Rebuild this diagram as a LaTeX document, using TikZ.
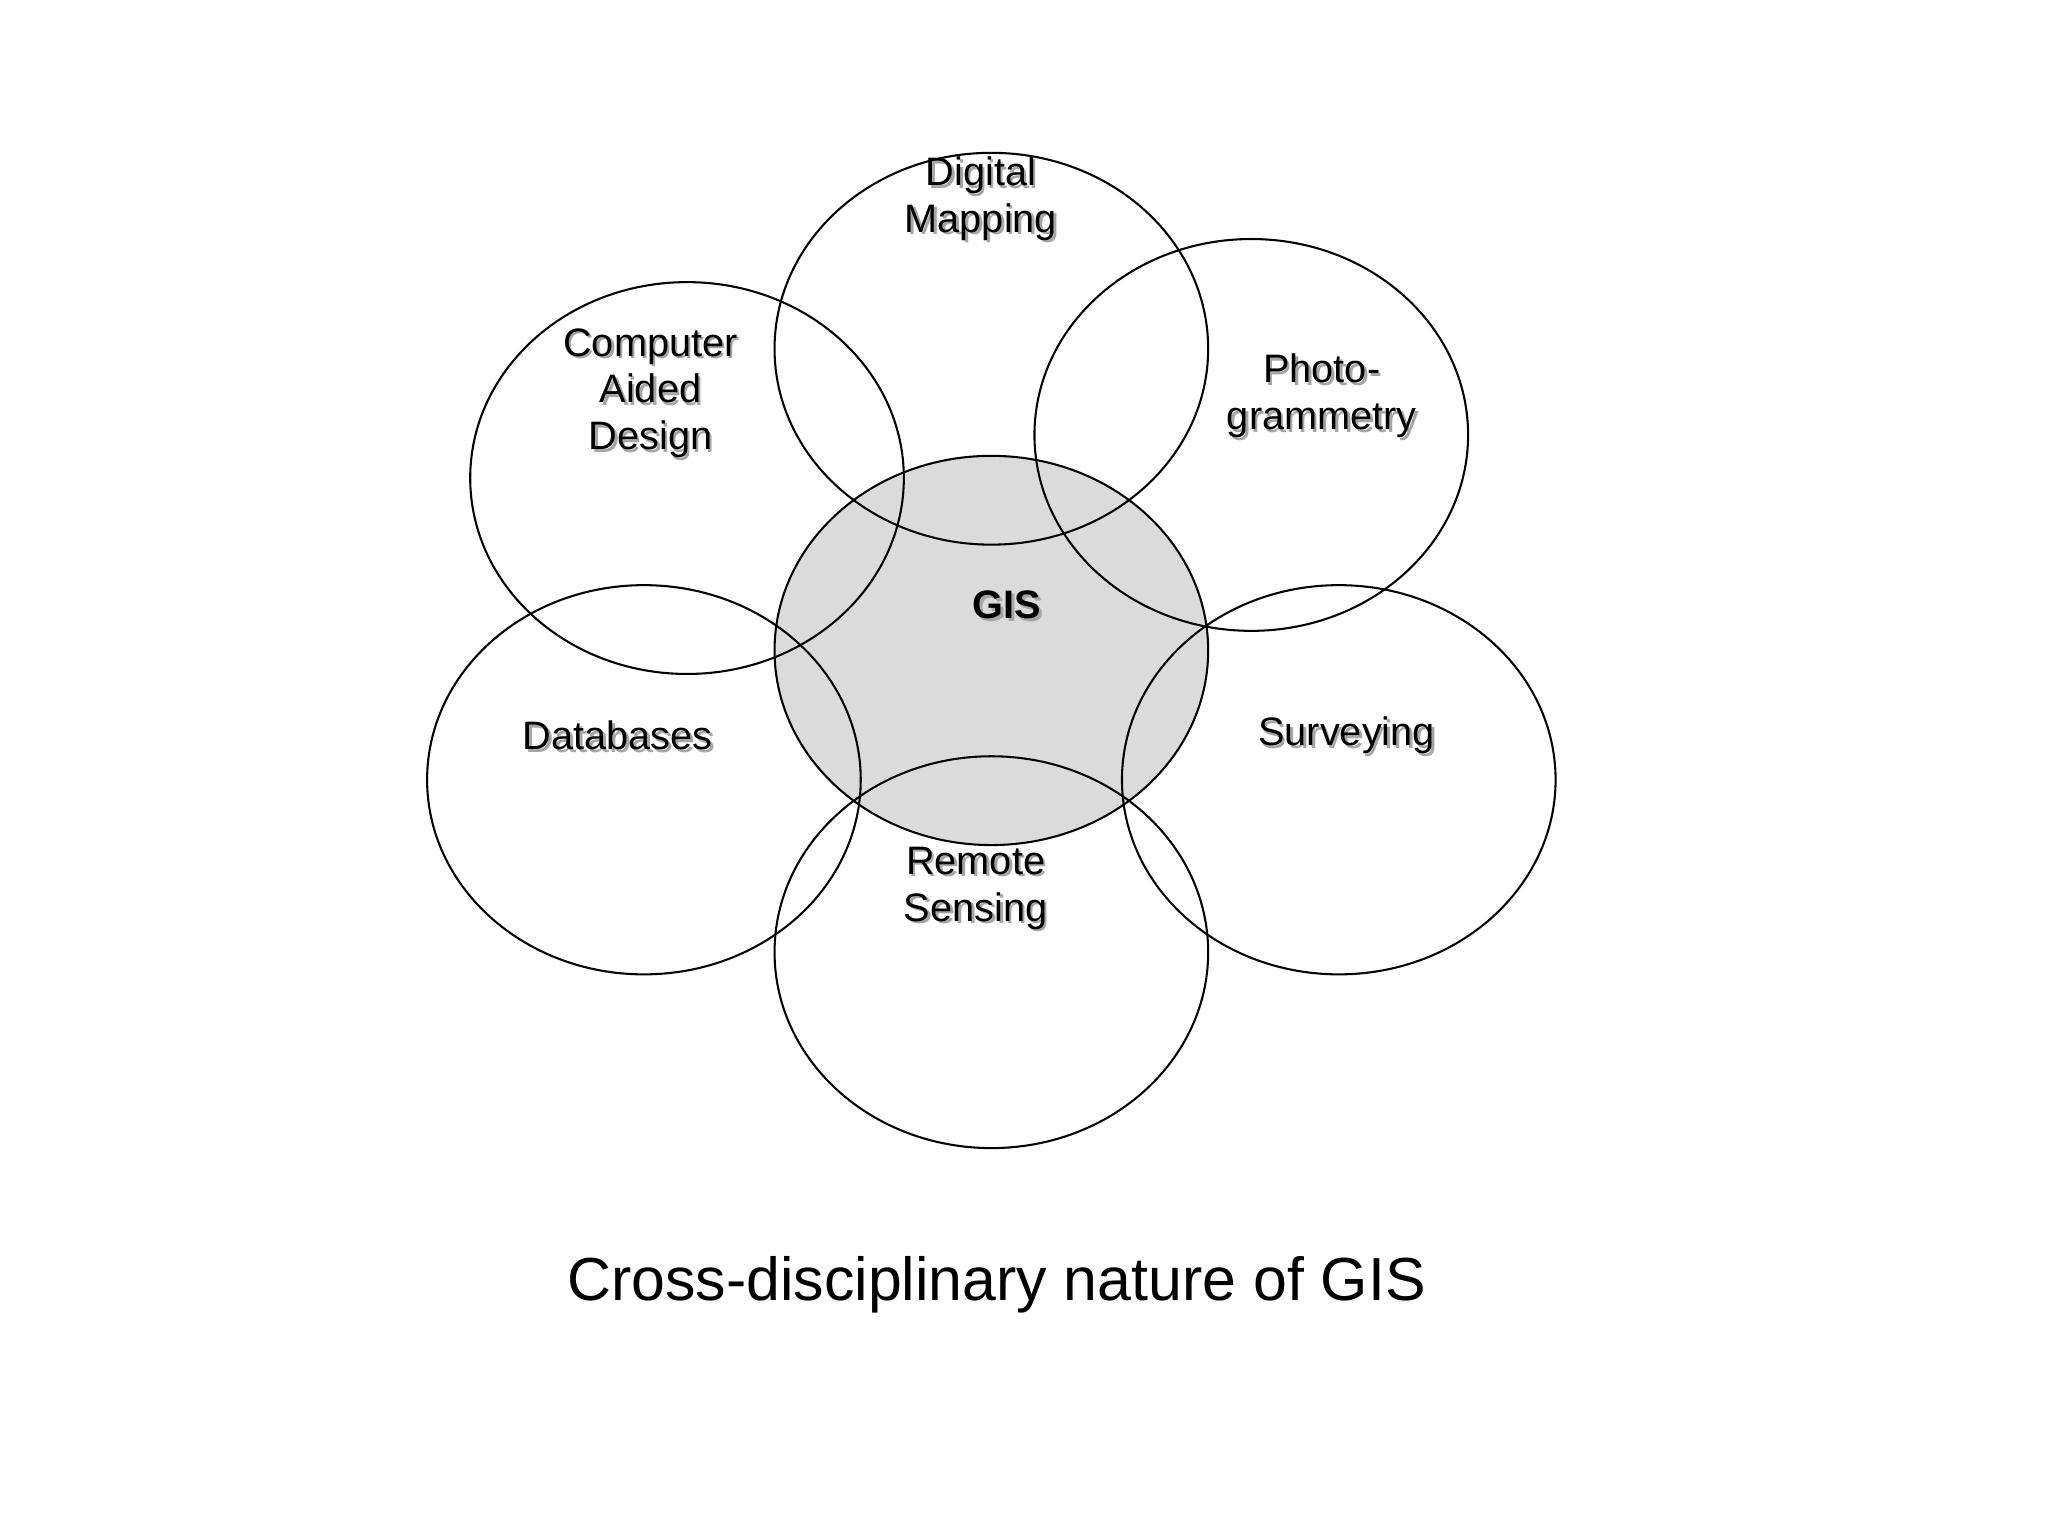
\documentclass[tikz,border=0pt]{standalone}
\usepackage{fontspec}
\setmainfont{Liberation Sans}
\begin{document}
\begin{tikzpicture}[x=0.02cm,y=-0.02cm,
  ring/.style={draw=black,line width=0.9pt},
  lab/.style={font=\fontsize{17.3}{20.4}\selectfont,align=center,text=black},
  shad/.style={font=\fontsize{17.3}{20.4}\selectfont,align=center,text=black!35}]
\useasboundingbox (0,0) rectangle (1568,1176);
\fill[white] (0,0) rectangle (1568,1176);
\filldraw[ring,fill=black!14] (759,498) ellipse [x radius=166,y radius=149];
\node[coordinate] (gis) at (759,498) {};
\draw[ring] (759,267) ellipse [x radius=166,y radius=150];
\draw[ring] (958,333) ellipse [x radius=166,y radius=150];
\draw[ring] (526,366) ellipse [x radius=166,y radius=150];
\draw[ring] (493,597) ellipse [x radius=166,y radius=149];
\draw[ring] (1025,597) ellipse [x radius=166,y radius=149];
\draw[ring] (759,729) ellipse [x radius=166,y radius=150];
\foreach \n/\x/\y/\t in {dm/751/152/{Digital\\Mapping},cad/498/301/{Computer\\Aided\\Design},ph/1012/303/{Photo-\\grammetry},db/473/563/{Databases},sv/1031/563/{Surveying},rs/747/680/{Remote\\Sensing},g/771/463/{\bfseries GIS}}{
  \node[shad] at (\x+2,\y+2) {\t};
  \node[lab] (\n) at (\x,\y) {\t};
}
\node[font=\fontsize{26.5}{30}\selectfont] (title) at (763,984) {Cross-disciplinary nature of GIS};
\end{tikzpicture}
\end{document}
